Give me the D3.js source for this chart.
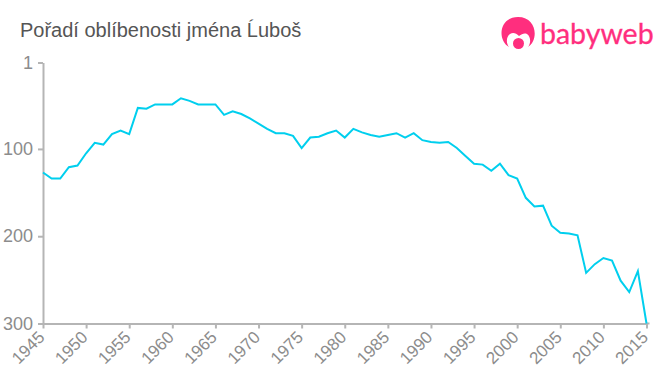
<html><head><meta charset="utf-8">
<script src="https://cdnjs.cloudflare.com/ajax/libs/d3/7.8.5/d3.min.js"></script>
<style>
body { margin: 0; background: #fff; font-family: "Liberation Sans", Arial, sans-serif; }
svg { display: block; }
.axis path, .axis line { stroke: #b5b5b5; stroke-width: 2; fill: none; }
.axis text { fill: #8c8c8c; font-family: "Liberation Sans", Arial, sans-serif; }
</style>
</head>
<body>
<div id="chart"></div>
<script>
const title = "Pořadí oblíbenosti jména Ĺuboš";
const years = d3.range(1945, 2016);
const ranks = [127, 134, 134, 121, 119, 105, 93, 95, 83, 79, 83, 53, 54, 49, 49, 49, 42, 45, 49, 49, 49,
    61, 57, 60, 65, 71, 77, 82, 82, 85, 99, 87, 86, 82, 79, 87, 77, 81, 84, 86, 84, 82, 87, 82, 90, 92, 93,
    92, 99, 108, 117, 118, 125, 117, 130, 134, 156, 166, 165, 188, 196, 197, 199, 242, 232, 225, 228, 251, 264, 240, 300];
const xTicks = d3.range(1945, 2016, 5);
const yTicks = [1, 100, 200, 300];

const width = 660, height = 375;
const svg = d3.select("#chart").append("svg").attr("width", width).attr("height", height);

const x = d3.scaleLinear().domain([1945, 2015]).range([43, 646.5]);
const y = d3.scaleLinear().domain([1, 300]).range([62.5, 323.5]);

svg.append("text").attr("x", 20).attr("y", 37)
    .style("font-size", "20px").style("fill", "#555").text(title);

// axes
const xAxis = svg.append("g").attr("class", "axis")
    .attr("transform", "translate(0,323.5)")
    .call(d3.axisBottom(x).tickValues(xTicks).tickFormat(d3.format("d")).tickSize(5).tickSizeOuter(0));
xAxis.selectAll("text")
    .attr("text-anchor", "end")
    .attr("transform", "rotate(-45)")
    .attr("x", -9).attr("y", 6).attr("dy", "0.35em")
    .style("font-size", "17px");
// the base line runs a little past the last tick
xAxis.append("line").attr("x1", x(2015)).attr("x2", x(2015) + 3);

svg.append("g").attr("class", "axis")
    .attr("transform", "translate(43,0)")
    .call(d3.axisLeft(y).tickValues(yTicks).tickSize(5).tickSizeOuter(0))
    .selectAll("text")
    .attr("x", -10)
    .style("font-size", "18px");

const line = d3.line().x((d, i) => x(years[i])).y(d => y(d));
svg.append("path").datum(ranks)
    .attr("d", line)
    .attr("fill", "none")
    .attr("stroke", "#00cfee")
    .attr("stroke-width", 2);

// logo
const logo = svg.append("g").attr("fill", "#ff2e7e");
logo.append("path").attr("d", "M509 47 C497 40 499 17 518 17 C537 17 539 40 528 47 C531 43 531 37 527 34 C524 33 522 34 519 36 C516 33 513 32 510 34 C506 37 506 43 509 47 Z");
logo.append("circle").attr("cx", 518.5).attr("cy", 43.5).attr("r", 5.5);
logo.append("text").attr("x", 540).attr("y", 44)
    .attr("stroke", "#ff2e7e").attr("stroke-width", 0.3)
    .style("font-family", "Lato, sans-serif")
    .style("font-size", "28.5px")
    .text("babyweb");
</script>
</body></html>
